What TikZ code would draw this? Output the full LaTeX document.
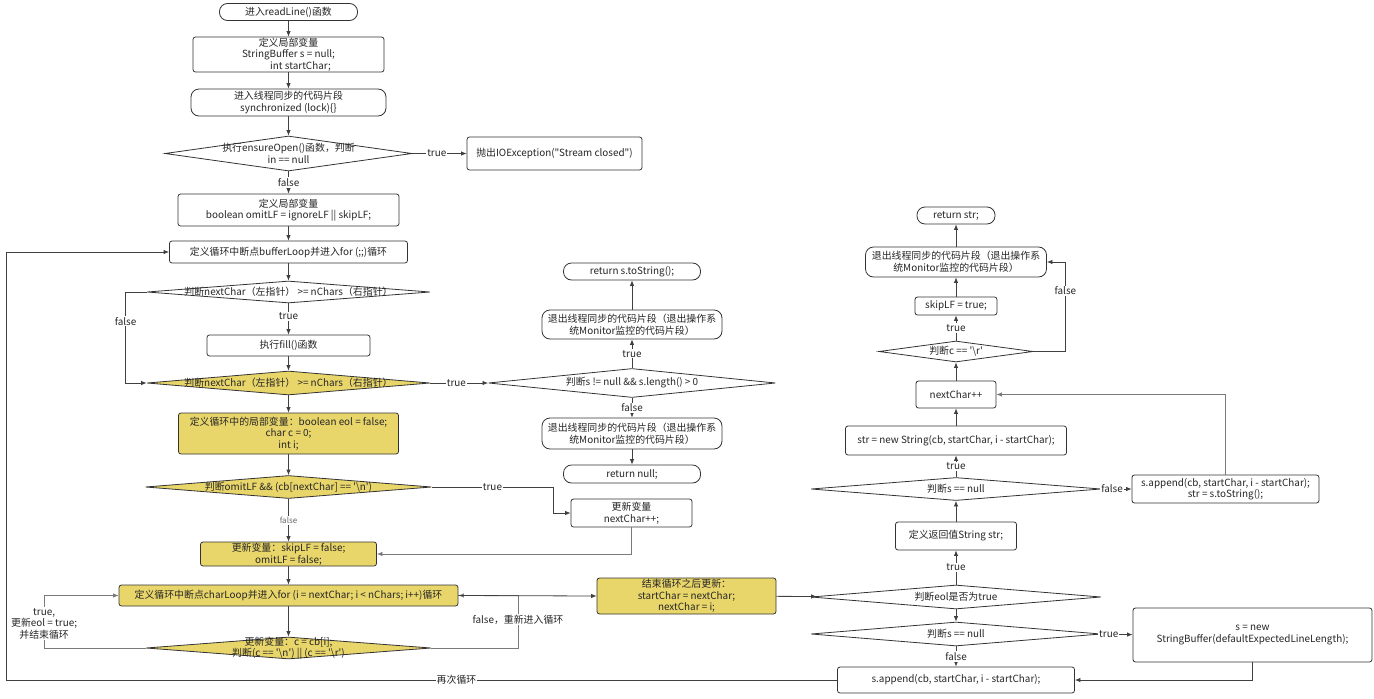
\documentclass[tikz,border=0pt]{standalone}
\usepackage{fontspec}
\setmainfont{Noto Sans CJK SC}[Ligatures=TeXOff]
\usetikzlibrary{arrows.meta,shapes.geometric}
\definecolor{ylw}{HTML}{E9D66B}
\definecolor{edge}{HTML}{333333}
\definecolor{ln}{HTML}{404040}
\definecolor{gln}{HTML}{7A7A7A}
\begin{document}
\begin{tikzpicture}[x=1pt,y=-1pt,
  every node/.style={font=\fontsize{9.9}{11.6}\selectfont, text=black!85},
  sz/.style 2 args={minimum width=#1, minimum height=#2},
  box/.style={draw=edge, line width=0.8pt, rounded corners=2.5pt, fill=white, inner sep=0pt, align=center},
  ybox/.style={box, fill=ylw},
  pill/.style={box, rounded corners=8pt},
  dia/.style={draw=edge, line width=0.8pt, shape=diamond, inner sep=0pt, fill=white},
  ydia/.style={dia, fill=ylw},
  dtxt/.style={align=center, inner sep=0pt},
  arr/.style={draw=ln, line width=0.8pt, -{Latex[length=5.5pt,width=4.5pt]}},
  garr/.style={arr, draw=gln},
  lbl/.style={fill=white, inner sep=1pt, align=center},
  slbl/.style={lbl, font=\fontsize{8}{10}\selectfont, text=black!60}]
\useasboundingbox (0,0) rectangle (1374,699);
\fill[white] (0,0) rectangle (1374,699);

% left column
\node[pill, sz={138pt}{17pt}] (start) at (288.5,12) {进入readLine()函数};
\node[box, sz={191pt}{35pt}] (def1) at (288.5,54.5) {定义局部变量\\StringBuffer s = null;\\\hspace*{24pt}int startChar;};
\node[pill, sz={195pt}{27pt}] (sync) at (288.5,102.5) {进入线程同步的代码片段\\synchronized (lock)\{\}};
\node[dia, sz={247pt}{35pt}] (d1) at (288.5,153.5) {};
\node[dtxt] (d1t) at (d1) {执行ensureOpen()函数，判断\\in == null};
\node[box, sz={175pt}{33pt}] (throw) at (554.5,153.5) {抛出IOException("Stream closed")};
\node[box, sz={221pt}{32pt}] (def2) at (288.5,210) {定义局部变量\\boolean omitLF = ignoreLF || skipLF;};
\node[box, sz={238pt}{22pt}] (loop1) at (288.5,252) {定义循环中断点bufferLoop并进入for (;;)循环};
\node[dia, sz={283pt}{22pt}] (d2) at (288.5,292) {};
\node[dtxt] (d2t) at (d2) {判断nextChar（左指针） >= nChars（右指针）};
\node[box, sz={163pt}{21pt}] (fill) at (288.5,345.5) {执行fill()函数};
\node[ydia, sz={283pt}{24pt}] (d3) at (288.5,383) {};
\node[dtxt] (d3t) at (d3) {判断nextChar（左指针） >= nChars（右指针）};
\node[ybox, sz={220pt}{41pt}] (lv) at (288.5,433.5) {定义循环中的局部变量：boolean eol = false;\\char c = 0;\\int i;};
\node[ydia, sz={286pt}{23pt}] (d5) at (288.5,487) {};
\node[dtxt] (d5t) at (d5) {判断omitLF \&\& (cb[nextChar] == '\textbackslash n')};
\node[box, sz={121pt}{28pt}] (nc1) at (631.5,513) {更新变量\\nextChar++;};
\node[ybox, sz={176pt}{24pt}] (up1) at (288.5,554) {更新变量：skipLF = false;\\omitLF = false;};
\node[ybox, sz={339pt}{21pt}] (loop2) at (288.5,595.5) {定义循环中断点charLoop并进入for (i = nextChar; i < nChars; i++)循环};
\node[ydia, sz={285pt}{22pt}] (d6) at (288.5,648) {};
\node[dtxt] (d6t) at (d6) {更新变量：c = cb[i];\\判断(c == '\textbackslash n') || (c == '\textbackslash r')};

% middle column
\node[pill, sz={137pt}{17pt}] (rets) at (632,271.5) {return s.toString();};
\node[pill, sz={180pt}{29pt}] (ex1) at (632,324.5) {退出线程同步的代码片段（退出操作系\\统Monitor监控的代码片段）};
\node[dia, sz={287pt}{29pt}] (d4) at (632,383) {};
\node[dtxt] (d4t) at (d4) {判断s != null \&\& s.length() > 0};
\node[pill, sz={180pt}{31pt}] (ex2) at (632,433.5) {退出线程同步的代码片段（退出操作系\\统Monitor监控的代码片段）};
\node[pill, sz={137pt}{18pt}] (retn) at (632,474) {return null;};
\node[ybox, sz={179pt}{36pt}] (end1) at (686.5,596) {结束循环之后更新：\\startChar = nextChar;\\nextChar = i;};

% right column
\node[pill, sz={78pt}{17pt}] (retstr) at (956,215.5) {return str;};
\node[pill, sz={181pt}{30pt}] (ex3) at (956,262) {退出线程同步的代码片段（退出操作系\\统Monitor监控的代码片段）};
\node[box, sz={82pt}{18pt}] (skip) at (956,306) {skipLF = true;};
\node[dia, sz={154pt}{21pt}] (d10) at (956,351.5) {};
\node[dtxt] (d10t) at (d10) {判断c == '\textbackslash r'};
\node[box, sz={80pt}{27pt}] (ncpp) at (956,394.5) {nextChar++};
\node[box, sz={221pt}{29pt}] (str1) at (956,440.5) {str = new String(cb, startChar, i - startChar);};
\node[dia, sz={290pt}{23pt}] (d9) at (956,489) {};
\node[dtxt] (d9t) at (d9) {判断s == null};
\node[box, sz={187pt}{28pt}] (sa1) at (1225.5,489) {s.append(cb, startChar, i - startChar);\\str = s.toString();};
\node[box, sz={121pt}{28pt}] (ret) at (956,536) {定义返回值String str;};
\node[dia, sz={290pt}{24pt}] (d7) at (956,597) {};
\node[dtxt] (d7t) at (d7) {判断eol是否为true};
\node[dia, sz={290pt}{24pt}] (d8) at (956,634) {};
\node[dtxt] (d8t) at (d8) {判断s == null};
\node[box, sz={239pt}{54pt}] (nsb) at (1252.5,635) {s = new\\StringBuffer(defaultExpectedLineLength);};
\node[box, sz={237pt}{26pt}] (sa2) at (956,680) {s.append(cb, startChar, i - startChar);};

% connectors left
\draw[arr] (start) -- (def1);
\draw[arr] (def1) -- (sync);
\draw[arr] (sync) -- (d1);
\draw[arr] (d1) -- node[lbl, pos=0.45]{true} (throw);
\draw[arr] (d1) -- node[lbl]{false} (def2);
\draw[arr] (def2) -- (loop1);
\draw[arr] (loop1) -- (d2);
\draw[arr] (d2) -- node[lbl, pos=0.42]{true} (fill);
\draw[arr] (fill) -- (d3);
\draw[arr] (d2.west) -- ++(-21,0) |- node[lbl, pos=0.16]{false} (d3.west);
\draw[arr] (d3) -- node[lbl, pos=0.45]{true} (d4);
\draw[arr] (d3) -- (lv);
\draw[arr] (lv) -- (d5);
\draw[arr] (d5) -- node[slbl]{false} (up1);
\coordinate (c5) at (553,487);
\draw[arr] (d5.east) -- node[lbl, pos=0.5]{true} (c5) |- (nc1.west);
\draw[garr] (nc1.south) |- (up1.east);
\draw[arr] (up1) -- (loop2);
\draw[arr] (loop2) -- (d6);
\draw[garr] (d6.west) -- ++(-101.5,0) |- node[lbl, pos=0.23]{true,\\更新eol = true;\\并结束循环} (loop2.west);
\draw[garr] (d6.east) -- ++(86.5,0) |- node[lbl, pos=0.27]{false，重新进入循环} (loop2.east);
\draw[arr] (loop2.east) -- (end1.west);

% connectors middle
\draw[arr] (d4) -- node[lbl]{true} (ex1);
\draw[arr] (ex1) -- (rets);
\draw[arr] (d4) -- node[lbl]{false} (ex2);
\draw[arr] (ex2) -- (retn);

% connectors right
\draw[arr] (end1) -- (d7);
\draw[arr] (d7) -- node[lbl]{true} (ret);
\draw[arr] (d7) -- (d8);
\draw[arr] (d8) -- node[lbl, pos=0.35]{true} (nsb);
\draw[arr] (d8) -- node[lbl]{false} (sa2);
\draw[arr] (nsb.south) |- (sa2.east);
\draw[arr] (sa2.west) -- node[lbl, pos=0.458]{再次循环} ++(-831,0) |- (loop1.west);
\draw[arr] (ret) -- (d9);
\draw[arr] (d9) -- node[lbl]{true} (str1);
\draw[arr] (d9) -- node[lbl, pos=0.35]{false} (sa1);
\draw[garr] (sa1.north) |- (ncpp.east);
\draw[arr] (str1) -- (ncpp);
\draw[arr] (ncpp) -- (d10);
\draw[arr] (d10) -- node[lbl]{true} (skip);
\draw[arr] (d10.east) -- ++(32,0) |- node[lbl, pos=0.34]{false} (ex3.east);
\draw[arr] (skip) -- (ex3);
\draw[arr] (ex3) -- (retstr);
\end{tikzpicture}
\end{document}
